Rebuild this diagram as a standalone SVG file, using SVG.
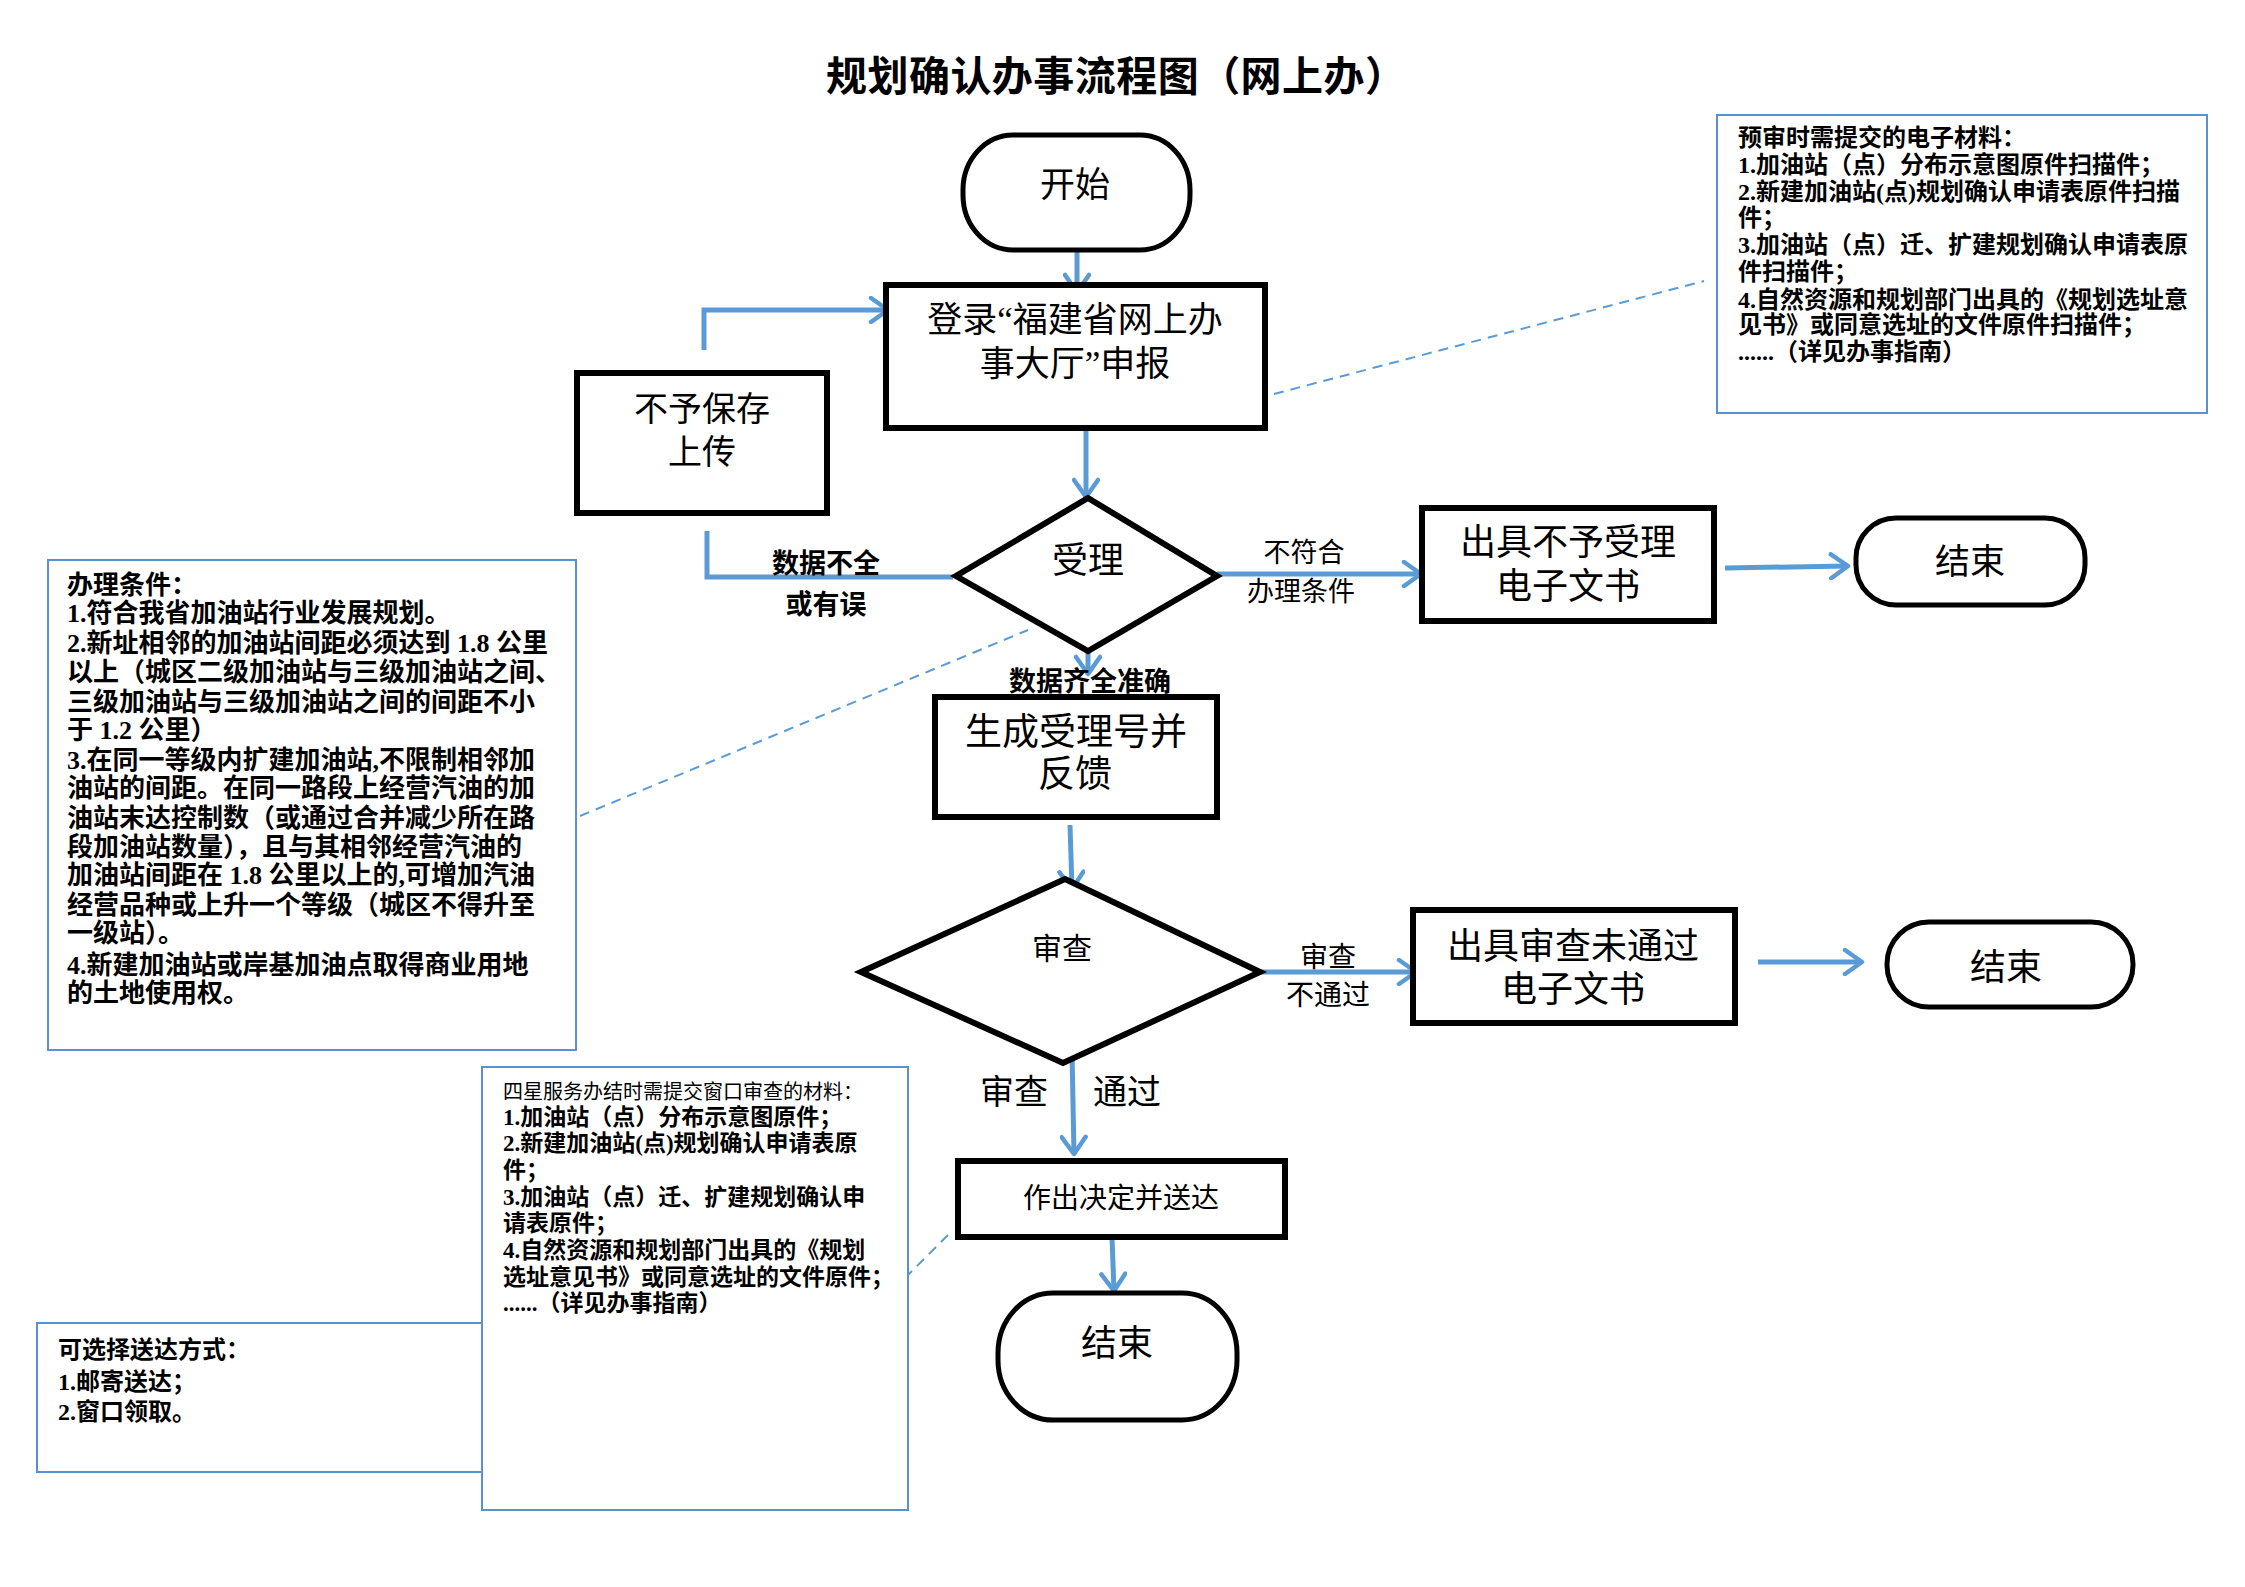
<svg xmlns="http://www.w3.org/2000/svg" width="2245" height="1587" viewBox="0 0 2245 1587">
<style>
.node{fill:#fff;stroke:#000;stroke-width:6}
.term{fill:#fff;stroke:#000;stroke-width:5}
.info{fill:#fff;stroke:#5B8FCF;stroke-width:2}
.conn{stroke:#5B9BD5;stroke-width:5;fill:none}
.dash{stroke:#5B9BD5;stroke-width:2;stroke-dasharray:10 7;fill:none}
text{font-family:"Liberation Serif","Noto Sans CJK SC",serif;fill:#000;dominant-baseline:central}
.c{text-anchor:middle}
.l{text-anchor:start;font-weight:bold}
.bd{font-weight:bold}
</style>
<defs>
<marker id="ah" markerUnits="userSpaceOnUse" markerWidth="26" markerHeight="28" viewBox="0 0 26 28" refX="22" refY="14" orient="auto">
<path d="M5,2 L22,14 L5,26" fill="none" stroke="#5B9BD5" stroke-width="4.5" stroke-linecap="round" stroke-linejoin="round"/>
</marker>
</defs>
<rect width="2245" height="1587" fill="#fff"/>
<text class="c bd" x="1116" y="77" font-size="41" textLength="580" lengthAdjust="spacing">规划确认办事流程图（网上办）</text>

<g id="info-conditions">
<rect class="info" x="48" y="560" width="528" height="490"/>
<g font-size="26">
<text class="l" x="67" y="585">办理条件：</text>
<text class="l" x="67" y="613">1.符合我省加油站行业发展规划。</text>
<text class="l" x="67" y="643">2.新址相邻的加油站间距必须达到 1.8 公里</text>
<text class="l" x="67" y="672">以上（城区二级加油站与三级加油站之间、</text>
<text class="l" x="67" y="702">三级加油站与三级加油站之间的间距不小</text>
<text class="l" x="67" y="730">于 1.2 公里）</text>
<text class="l" x="67" y="760">3.在同一等级内扩建加油站,不限制相邻加</text>
<text class="l" x="67" y="788">油站的间距。在同一路段上经营汽油的加</text>
<text class="l" x="67" y="818">油站末达控制数（或通过合并减少所在路</text>
<text class="l" x="67" y="847">段加油站数量），且与其相邻经营汽油的</text>
<text class="l" x="67" y="875">加油站间距在 1.8 公里以上的,可增加汽油</text>
<text class="l" x="67" y="905">经营品种或上升一个等级（城区不得升至</text>
<text class="l" x="67" y="933">一级站）。</text>
<text class="l" x="67" y="965">4.新建加油站或岸基加油点取得商业用地</text>
<text class="l" x="67" y="993">的土地使用权。</text>
</g>
</g>

<g id="info-pre">
<rect class="info" x="1717" y="115" width="490" height="298"/>
<g font-size="24">
<text class="l" x="1738" y="138">预审时需提交的电子材料：</text>
<text class="l" x="1738" y="165">1.加油站（点）分布示意图原件扫描件；</text>
<text class="l" x="1738" y="192">2.新建加油站(点)规划确认申请表原件扫描</text>
<text class="l" x="1738" y="218">件；</text>
<text class="l" x="1738" y="245">3.加油站（点）迁、扩建规划确认申请表原</text>
<text class="l" x="1738" y="272">件扫描件；</text>
<text class="l" x="1738" y="300">4.自然资源和规划部门出具的《规划选址意</text>
<text class="l" x="1738" y="325">见书》或同意选址的文件原件扫描件；</text>
<text class="l" x="1738" y="352">......（详见办事指南）</text>
</g>
</g>

<g id="info-delivery">
<rect class="info" x="37" y="1323" width="445" height="149"/>
<g font-size="24">
<text class="l" x="58" y="1350">可选择送达方式：</text>
<text class="l" x="58" y="1382">1.邮寄送达；</text>
<text class="l" x="58" y="1412">2.窗口领取。</text>
</g>
</g>

<g id="info-star">
<rect class="info" x="482" y="1067" width="426" height="443"/>
<text x="503" y="1092" font-size="20">四星服务办结时需提交窗口审查的材料：</text>
<g font-size="23">
<text class="l" x="503" y="1117">1.加油站（点）分布示意图原件；</text>
<text class="l" x="503" y="1143">2.新建加油站(点)规划确认申请表原</text>
<text class="l" x="503" y="1170">件；</text>
<text class="l" x="503" y="1197">3.加油站（点）迁、扩建规划确认申</text>
<text class="l" x="503" y="1223">请表原件；</text>
<text class="l" x="503" y="1250">4.自然资源和规划部门出具的《规划</text>
<text class="l" x="503" y="1277">选址意见书》或同意选址的文件原件；</text>
<text class="l" x="503" y="1303">......（详见办事指南）</text>
</g>
</g>

<g id="connectors">
<path class="dash" d="M580,816 L1028,630"/>
<path class="dash" d="M1274,394 L1704,281"/>
<path class="dash" d="M948,1235 L908,1275"/>
<path class="conn" stroke-width="4" d="M1077,250 L1077,292" marker-end="url(#ah)"/>
<path class="conn" d="M1086,428 L1086,497" marker-end="url(#ah)"/>
<path class="conn" stroke-width="6" d="M1217,574 L1421,574" marker-end="url(#ah)"/>
<path class="conn" stroke-width="6" d="M1725,568 L1848,566" marker-end="url(#ah)"/>
<path class="conn" d="M953,577 L707,577 L707,531"/>
<path class="conn" d="M704,350 L704,310 L888,310" marker-end="url(#ah)"/>
<path class="conn" d="M1088,632 L1088,674" marker-end="url(#ah)"/>
<path class="conn" d="M1070,825 L1072,889" marker-end="url(#ah)"/>
<path class="conn" stroke-width="6" d="M1260,972 L1416,972" marker-end="url(#ah)"/>
<path class="conn" stroke-width="6" d="M1758,962 L1862,962" marker-end="url(#ah)"/>
<path class="conn" d="M1072,1052 L1074,1154" marker-end="url(#ah)"/>
<path class="conn" d="M1112,1237 L1114,1291" marker-end="url(#ah)"/>
<text class="c bd" x="826" y="564" font-size="27">数据不全</text>
<text class="c bd" x="826" y="605" font-size="27">或有误</text>
<text class="c" x="1304" y="553" font-size="27">不符合</text>
<text class="c" x="1301" y="592" font-size="27">办理条件</text>
<text class="c bd" x="1090" y="682" font-size="27">数据齐全准确</text>
<text class="c" x="1328" y="957" font-size="28">审查</text>
<text class="c" x="1328" y="995" font-size="28">不通过</text>
<text class="c" x="1014" y="1092" font-size="34">审查</text>
<text class="c" x="1127" y="1092" font-size="34">通过</text>
</g>

<g id="start">
<rect class="term" x="963" y="135" width="227" height="115" rx="50" ry="55"/>
<text class="c" x="1075" y="185" font-size="35">开始</text>
</g>
<g id="login">
<rect class="node" x="886" y="285" width="379" height="143"/>
<text class="c" x="1075" y="320" font-size="35">登录“福建省网上办</text>
<text class="c" x="1075" y="364" font-size="35">事大厅”申报</text>
</g>
<g id="nosave">
<rect class="node" x="577" y="373" width="250" height="140"/>
<text class="c" x="702" y="409" font-size="34">不予保存</text>
<text class="c" x="702" y="452" font-size="34">上传</text>
</g>
<g id="accept">
<polygon class="node" points="1088,498 1217,576 1088,651 956,576"/>
<text class="c" x="1088" y="561" font-size="36">受理</text>
</g>
<g id="reject">
<rect class="node" x="1422" y="508" width="292" height="113"/>
<text class="c" x="1568" y="543" font-size="36">出具不予受理</text>
<text class="c" x="1568" y="587" font-size="36">电子文书</text>
</g>
<g id="end1">
<rect class="term" x="1856" y="518" width="229" height="87" rx="40" ry="40"/>
<text class="c" x="1970" y="562" font-size="35">结束</text>
</g>
<g id="generate">
<rect class="node" x="935" y="697" width="282" height="120"/>
<text class="c" x="1076" y="732" font-size="37">生成受理号并</text>
<text class="c" x="1075" y="774" font-size="37">反馈</text>
</g>
<g id="review">
<polygon class="node" points="1065,879 1260,972 1063,1063 861,972"/>
<text class="c" x="1062" y="948" font-size="30">审查</text>
</g>
<g id="fail">
<rect class="node" x="1413" y="910" width="322" height="113"/>
<text class="c" x="1573" y="947" font-size="36">出具审查未通过</text>
<text class="c" x="1573" y="990" font-size="36">电子文书</text>
</g>
<g id="end2">
<rect class="term" x="1887" y="922" width="246" height="85" rx="42" ry="42"/>
<text class="c" x="2006" y="968" font-size="36">结束</text>
</g>
<g id="decide">
<rect class="node" x="958" y="1161" width="327" height="76"/>
<text class="c" x="1121" y="1198" font-size="28">作出决定并送达</text>
</g>
<g id="end3">
<rect class="term" x="998" y="1293" width="239" height="127" rx="55" ry="60"/>
<text class="c" x="1117" y="1344" font-size="36">结束</text>
</g>
</svg>
